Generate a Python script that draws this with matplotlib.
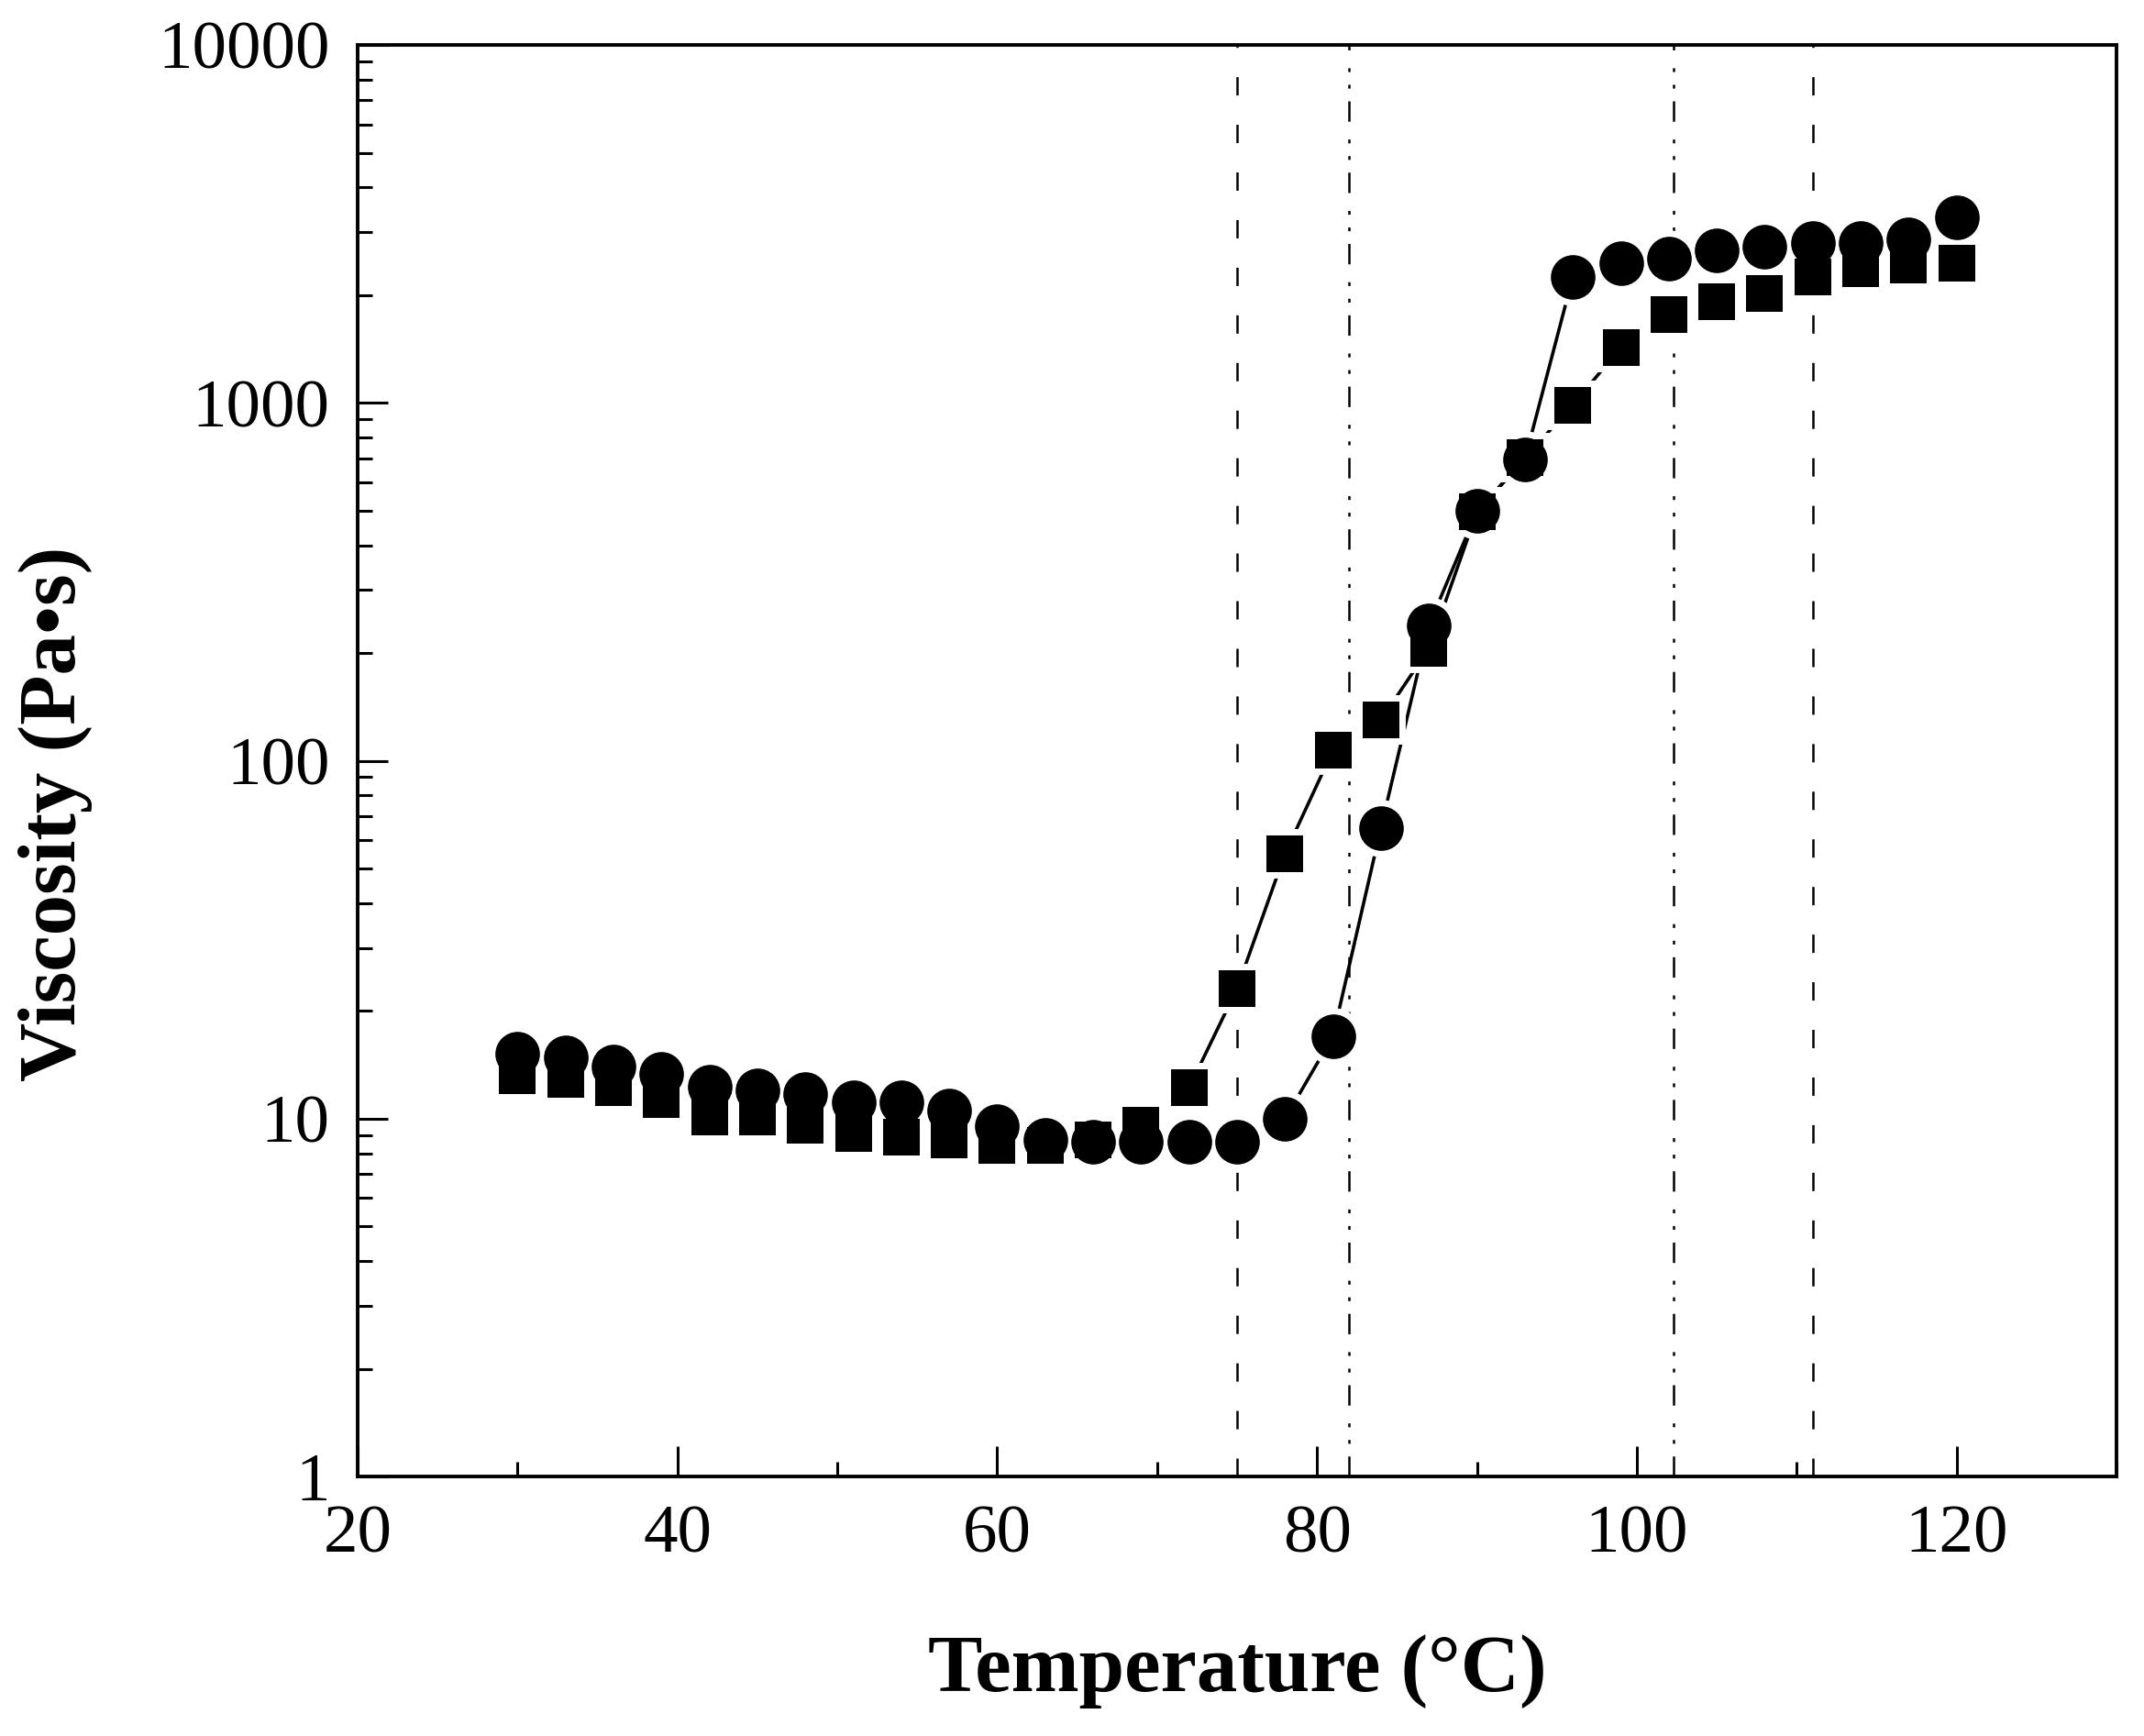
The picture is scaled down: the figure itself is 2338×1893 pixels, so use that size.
#!/usr/bin/env python3
"""
Viscosity vs temperature (log scale) for two heating runs
"""

import matplotlib
matplotlib.use('Agg')
import matplotlib.pyplot as plt
from matplotlib.ticker import MultipleLocator, LogLocator, NullFormatter

# data
temperature = [30, 33, 36, 39, 42, 45, 48, 51, 54, 57, 60, 63, 66, 69, 72, 75,
               78, 81, 84, 87, 90, 93, 96, 99, 102, 105, 108, 111, 114, 117, 120]
visc_circle = [15.2, 14.8, 14.0, 13.3, 12.3, 12.0, 11.7, 11.1, 11.1, 10.5, 9.5,
               8.7, 8.6, 8.6, 8.6, 8.6, 10.0, 17.0, 65, 239, 498, 695, 2250,
               2460, 2530, 2660, 2730, 2800, 2800, 2870, 3290]
visc_square = [13.2, 12.9, 12.2, 11.3, 10.1, 10.1, 9.6, 9.1, 8.9, 8.7, 8.4,
               8.4, 8.7, 9.6, 12.2, 23.1, 55, 107, 130, 206, 495, 702, 986,
               1430, 1770, 1915, 2018, 2244, 2366, 2429, 2460]
vline_dashed = [75.0, 111.0]
vline_dashdot = [82.0, 102.3]
ytick_values = [1, 10, 100, 1000, 10000]
ytick_labels = ['1', '10', '100', '1000', '10000']

plt.rcParams['font.family'] = ['Liberation Serif', 'DejaVu Serif']
plt.rcParams['lines.scale_dashes'] = False

fig = plt.figure(figsize=(11.69, 9.465), dpi=200)
ax = fig.add_axes([0.1668, 0.1495, 0.8204, 0.8246])

# reference lines
for xv in vline_dashed:
    ax.axvline(xv, color='black', lw=0.9, linestyle=(0, (7.2, 11.5)), zorder=1)
for xv in vline_dashdot:
    ax.axvline(xv, color='black', lw=0.9,
               linestyle=(0, (8, 5, 1.5, 5, 1.5, 7)), zorder=1)

# connecting lines
ax.plot(temperature, visc_circle, color='black', lw=1.3, zorder=2)
ax.plot(temperature, visc_square, color='black', lw=1.3, zorder=2)

# white halo around symbols -> gap between line and symbol
ax.plot(temperature, visc_circle, linestyle='none', marker='o', ms=17.5,
        mfc='white', mec='white', mew=5, zorder=2.5)
ax.plot(temperature, visc_square, linestyle='none', marker='s', ms=14.4,
        mfc='white', mec='white', mew=5, zorder=2.5)

# symbols
ax.plot(temperature, visc_circle, linestyle='none', marker='o', ms=17.5,
        mfc='black', mec='black', mew=0, zorder=3)
ax.plot(temperature, visc_square, linestyle='none', marker='s', ms=14.4,
        mfc='black', mec='black', mew=0, zorder=3)

ax.set_yscale('log')
ax.set_xlim(20, 130)
ax.set_ylim(1, 10000)

ax.xaxis.set_major_locator(MultipleLocator(20))
ax.xaxis.set_minor_locator(MultipleLocator(10))
ax.set_yticks(ytick_values)
ax.set_yticklabels(ytick_labels)
ax.yaxis.set_minor_locator(LogLocator(base=10, subs=range(2, 10)))
ax.yaxis.set_minor_formatter(NullFormatter())

ax.tick_params(which='both', direction='in', top=False, right=False,
               labelsize=27, pad=11)
ax.tick_params(which='major', length=12, width=1.1)
ax.tick_params(which='minor', length=5.8, width=1.1)

for spine in ax.spines.values():
    spine.set_linewidth(1.4)

ax.set_xlabel('Temperature (°C)', fontsize=32, fontweight='bold', va='center')
ax.xaxis.set_label_coords(0.5, -0.136)
ax.set_ylabel('Viscosity (Pa•s)', fontsize=32, fontweight='bold', va='center')
ax.yaxis.set_label_coords(-0.172, 0.463)

fig.savefig('out.png', dpi=200, facecolor='white')
plt.close(fig)
